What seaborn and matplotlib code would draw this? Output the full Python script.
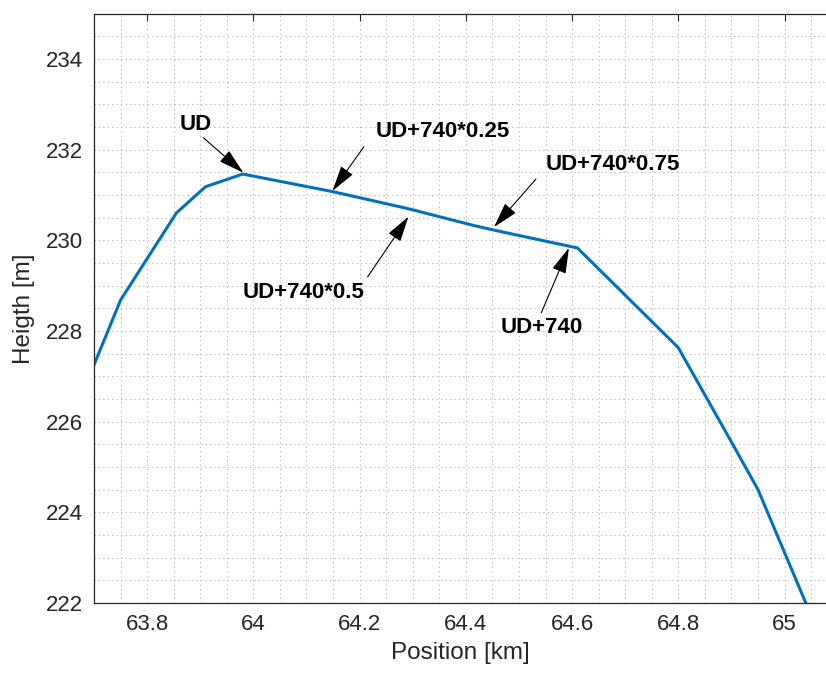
import matplotlib
matplotlib.use("Agg")
import matplotlib.pyplot as plt
import seaborn as sns
import pandas as pd
from matplotlib.ticker import MultipleLocator, FuncFormatter

# profile data
position_km = [63.70, 63.75, 63.855, 63.91, 63.98, 64.15, 64.29, 64.42, 64.47,
               64.61, 64.80, 64.90, 64.95, 65.04, 65.06]
height_m = [227.25, 228.68, 230.60, 231.18, 231.46, 231.07, 230.70, 230.31, 230.18,
            229.83, 227.63, 225.55, 224.50, 222.00, 221.45]

# annotations: label, text anchor, arrow tail, arrow head, alignment
labels = ["UD", "UD+740*0.25", "UD+740*0.75", "UD+740*0.5", "UD+740"]
text_xy = [(63.891, 232.55), (64.23, 232.39), (64.551, 231.66), (63.979, 228.84), (64.466, 228.07)]
tail_xy = [(63.906, 232.26), (64.208, 232.06), (64.532, 231.35), (64.215, 229.19), (64.542, 228.40)]
head_xy = [(63.981, 231.49), (64.149, 231.09), (64.453, 230.29), (64.292, 230.52), (64.594, 229.83)]
text_ha = ["center", "left", "left", "left", "left"]

df = pd.DataFrame({"Position": position_km, "Height": height_m})

sns.set_style("white")
plt.rcParams['font.family'] = ['Liberation Sans', 'DejaVu Sans']

fig = plt.figure(figsize=(8.26, 6.73), dpi=100)
ax = fig.add_axes([94 / 826, 70 / 673, 732 / 826, 589.5 / 673])

sns.lineplot(data=df, x="Position", y="Height", ax=ax, sort=False, estimator=None,
             color="#0072BD", lw=2.2)

ax.set_xlim(63.7, 65.078)
ax.set_ylim(222, 235)
ax.xaxis.set_major_locator(MultipleLocator(0.2))
ax.yaxis.set_major_locator(MultipleLocator(2))
ax.xaxis.set_minor_locator(MultipleLocator(0.05))
ax.yaxis.set_minor_locator(MultipleLocator(0.5))
ax.xaxis.set_major_formatter(FuncFormatter(lambda v, p: "%g" % round(v, 2)))
ax.yaxis.set_major_formatter(FuncFormatter(lambda v, p: "%g" % round(v, 2)))

ax.grid(which="both", linestyle=(0, (1, 3)), color="#b0b0b0", lw=0.8)
ax.set_axisbelow(True)
ax.tick_params(which="major", direction="in", length=5, width=0.8, top=True, right=False,
               labelsize=16, colors="#262626", pad=8)
ax.tick_params(which="minor", length=0)
for s in ["left", "bottom", "top"]:
    ax.spines[s].set_color("#262626")
    ax.spines[s].set_linewidth(0.9)
ax.spines["right"].set_visible(False)

ax.set_xlabel("Position [km]", fontsize=17.5, color="#262626", labelpad=5)
ax.set_ylabel("Heigth [m]", fontsize=17.5, color="#262626", labelpad=8)

for lab, t, a, h, ha in zip(labels, text_xy, tail_xy, head_xy, text_ha):
    ax.text(t[0], t[1], lab, ha=ha, va="center", fontsize=16, fontweight="bold", color="k")
    ax.annotate("", xy=h, xytext=a,
                arrowprops=dict(arrowstyle="-|>,head_length=1.6,head_width=0.45",
                                color="k", lw=0.8, shrinkA=0, shrinkB=0))

fig.savefig("out.png", dpi=100)
